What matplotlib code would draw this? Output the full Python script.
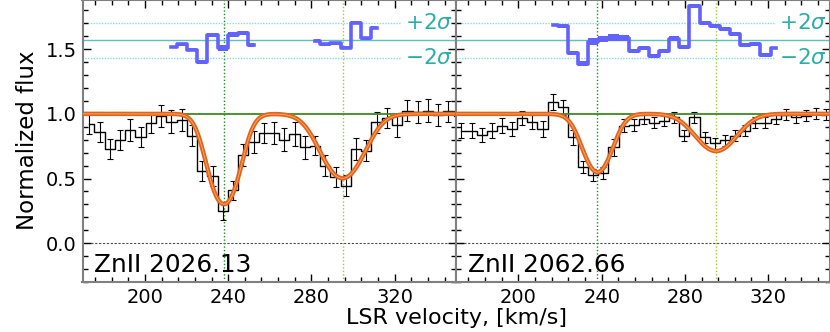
import numpy as np
import matplotlib
matplotlib.use("Agg")
import matplotlib.pyplot as plt
from matplotlib.ticker import MultipleLocator

# ---------------- data ----------------
# left panel: ZnII 2026.13
vel_a = [173.3, 178.2, 183.2, 188.1, 193.0, 197.9, 202.9, 207.8, 212.7, 217.7,
         222.6, 227.5, 232.5, 237.4, 242.3, 247.3, 252.2, 257.1, 262.0, 267.0,
         271.9, 276.8, 281.8, 286.7, 291.6, 296.6, 301.5, 306.4, 311.3, 316.3,
         321.2, 326.1, 331.1, 336.0, 340.9, 345.8, 350.8]
flux_a = [0.92, 0.86, 0.73, 0.80, 0.875, 0.82, 0.93, 0.985, 0.94, 0.95,
          0.83, 0.56, 0.52, 0.25, 0.41, 0.68, 0.78, 0.85, 0.85, 0.80,
          0.845, 0.74, 0.755, 0.60, 0.51, 0.445, 0.73, 0.715, 0.935, 0.97,
          0.91, 1.025, 1.015, 1.025, 0.99, 1.02, 0.985]
err_a = [0.073, 0.075, 0.077, 0.077, 0.084, 0.080, 0.080, 0.085, 0.086, 0.085,
         0.080, 0.077, 0.077, 0.068, 0.073, 0.084, 0.084, 0.077, 0.086, 0.087,
         0.090, 0.090, 0.071, 0.080, 0.077, 0.080, 0.086, 0.080, 0.083, 0.078,
         0.092, 0.083, 0.087, 0.087, 0.086, 0.080, 0.080]

# right panel: ZnII 2062.66
vel_b = [172.6, 177.5, 182.3, 187.2, 192.1, 196.9, 201.8, 206.7, 211.6, 216.4,
         221.3, 226.2, 231.0, 235.9, 240.8, 245.7, 250.5, 255.4, 260.3, 265.1,
         270.0, 274.9, 279.7, 284.6, 289.5, 294.4, 299.2, 304.1, 309.0, 313.8,
         318.7, 323.6, 328.4, 333.3, 338.2, 343.0, 347.9]
flux_b = [0.87, 0.87, 0.836, 0.87, 0.908, 0.882, 0.967, 0.939, 0.882, 1.093,
          1.05, 0.818, 0.587, 0.528, 0.543, 0.741, 0.908, 0.915, 0.961, 0.930,
          0.948, 0.974, 0.832, 0.974, 0.819, 0.773, 0.794, 0.832, 0.871, 0.930,
          0.930, 0.961, 0.992, 0.974, 0.987, 1.000, 0.992]
err_b = [0.058, 0.058, 0.052, 0.059, 0.058, 0.054, 0.055, 0.054, 0.060, 0.060,
         0.058, 0.058, 0.045, 0.045, 0.048, 0.064, 0.052, 0.045, 0.042, 0.042,
         0.042, 0.042, 0.042, 0.042, 0.042, 0.042, 0.042, 0.042, 0.042, 0.042,
         0.042, 0.042, 0.042, 0.042, 0.042, 0.042, 0.042]

# residuals (plotted offset, in flux units) : (first bin index, values, half-widths)
resid_a = [(8, [1.518, 1.539, 1.495, 1.402, 1.608, 1.508, 1.613, 1.628, 1.531],
            [0.010, 0.011, 0.013, 0.016, 0.016, 0.024, 0.016, 0.016, 0.013]),
           (22, [1.566, 1.539, 1.546, 1.512, 1.705, 1.585, 1.667],
            [0.012, 0.012, 0.012, 0.012, 0.012, 0.012, 0.012])]
resid_b = [(9, [1.687, 1.680, 1.469, 1.389, 1.559, 1.577, 1.590, 1.585, 1.487, 1.508,
                1.448, 1.487, 1.582, 1.518, 1.834, 1.705, 1.680, 1.654, 1.616, 1.533,
                1.539, 1.456, 1.508],
            [0.010, 0.013, 0.016, 0.020, 0.024, 0.024, 0.024, 0.024, 0.016, 0.013,
             0.013, 0.013, 0.016, 0.016, 0.016, 0.016, 0.016, 0.016, 0.016, 0.016,
             0.016, 0.013, 0.010])]

# model components (velocity, b-parameter, central optical depth)
comp_v = [238.0, 295.0]
comp_b = [9.0, 13.0]
tau_a = [1.20, 0.69]
tau_b = [0.60, 0.34]

resid_zero = 1.57
resid_p2 = 1.703
resid_m2 = 1.435

labels = ["ZnII 2026.13", "ZnII 2062.66"]

# ---------------- figure ----------------
W, H = 830, 332
fig = plt.figure(figsize=(W / 100, H / 100), dpi=100)
ax_w = 373.5
axL = fig.add_axes([82.5 / W, 50 / H, ax_w / W, 282 / H])
axR = fig.add_axes([456 / W, 50 / H, ax_w / W, 282 / H])

vgrid = np.linspace(165, 355, 800)
blue = "#6262ff"

panels = [(axL, vel_a, flux_a, err_a, resid_a, tau_a, labels[0]),
          (axR, vel_b, flux_b, err_b, resid_b, tau_b, labels[1])]

for ax, v, f, e, res, taus, lab in panels:
    v = np.asarray(v)
    ax.set_xlim(170, 349.5)
    ax.set_ylim(-0.3, 1.88)

    # reference lines
    ax.axhline(0.0, color="0.3", lw=0.8, ls=(0, (2, 1.5)), zorder=1)
    ax.axvline(comp_v[0], color="#1f8a1f", lw=1.0, ls=(0, (1, 1.5)), zorder=1)
    ax.axvline(comp_v[1], color="#9acd32", lw=1.0, ls=(0, (1, 1.5)), zorder=1)

    # residual reference lines
    ax.axhline(resid_zero, color="#5fbfbf", lw=1.0, zorder=1)
    ax.plot([170, 323], [resid_p2, resid_p2], color="#8fd8d8", lw=1.0, ls=(0, (1, 1)), zorder=1)
    ax.plot([170, 323], [resid_m2, resid_m2], color="#8fd8d8", lw=1.0, ls=(0, (1, 1)), zorder=1)
    ax.text(348, resid_p2, r"$+2\sigma$", color="#2aaea6", fontsize=15.5,
            ha="right", va="center")
    ax.text(348, resid_m2, r"$-2\sigma$", color="#2aaea6", fontsize=15.5,
            ha="right", va="center")

    # data
    ax.step(v, f, where="mid", color="k", lw=1.0, zorder=3)
    ax.errorbar(v, f, yerr=e, fmt="none", ecolor="k", elinewidth=0.8,
                capsize=2.5, capthick=0.8, zorder=3)

    # continuum
    ax.axhline(1.0, color="#3a8c1e", lw=1.3, zorder=4)

    # model
    tau = np.zeros_like(vgrid)
    for cv, cb, ct in zip(comp_v, comp_b, taus):
        tau += ct * np.exp(-((vgrid - cv) / cb) ** 2)
    model = np.exp(-tau)
    ax.plot(vgrid, model, color="#e4621a", lw=3.2, zorder=5, solid_capstyle="butt")
    ax.plot(vgrid, model, color="#f3a868", lw=0.7, zorder=6)

    # residuals
    for k0, vals, hw in res:
        vv = v[k0:k0 + len(vals)]
        vals = np.asarray(vals)
        hw = np.asarray(hw)
        ax.fill_between(vv, vals - hw, vals + hw, step="mid",
                        color=blue, lw=0.0, zorder=7)
        ax.step(vv, vals, where="mid", color=blue, lw=2.6, zorder=7)

    ax.text(0.031, 0.035, lab, transform=ax.transAxes, fontsize=17.8,
            ha="left", va="baseline", zorder=8)

    # ticks
    ax.xaxis.set_major_locator(MultipleLocator(40))
    ax.xaxis.set_minor_locator(MultipleLocator(8))
    ax.yaxis.set_major_locator(MultipleLocator(0.5))
    ax.yaxis.set_minor_locator(MultipleLocator(0.1))
    ax.tick_params(which="both", direction="in", top=True, right=True,
                   colors="k", labelsize=14, width=1.0, pad=4)
    ax.tick_params(which="major", length=6)
    ax.tick_params(which="minor", length=3.5)
    for sp in ax.spines.values():
        sp.set_color("#808080")
        sp.set_linewidth(1.5)

axR.tick_params(labelleft=False)
axL.set_yticks([0.0, 0.5, 1.0, 1.5])
axL.set_yticklabels(["0.0", "0.5", "1.0", "1.5"])

fig.text(28 / W, 1 - 140 / H, "Normalized flux", rotation=90, ha="center",
         va="center", fontsize=16.5)
fig.text(456 / W, (H - 324.5) / H, "LSR velocity, [km/s]", ha="center",
         va="baseline", fontsize=16)

fig.savefig("out.png", dpi=100)
